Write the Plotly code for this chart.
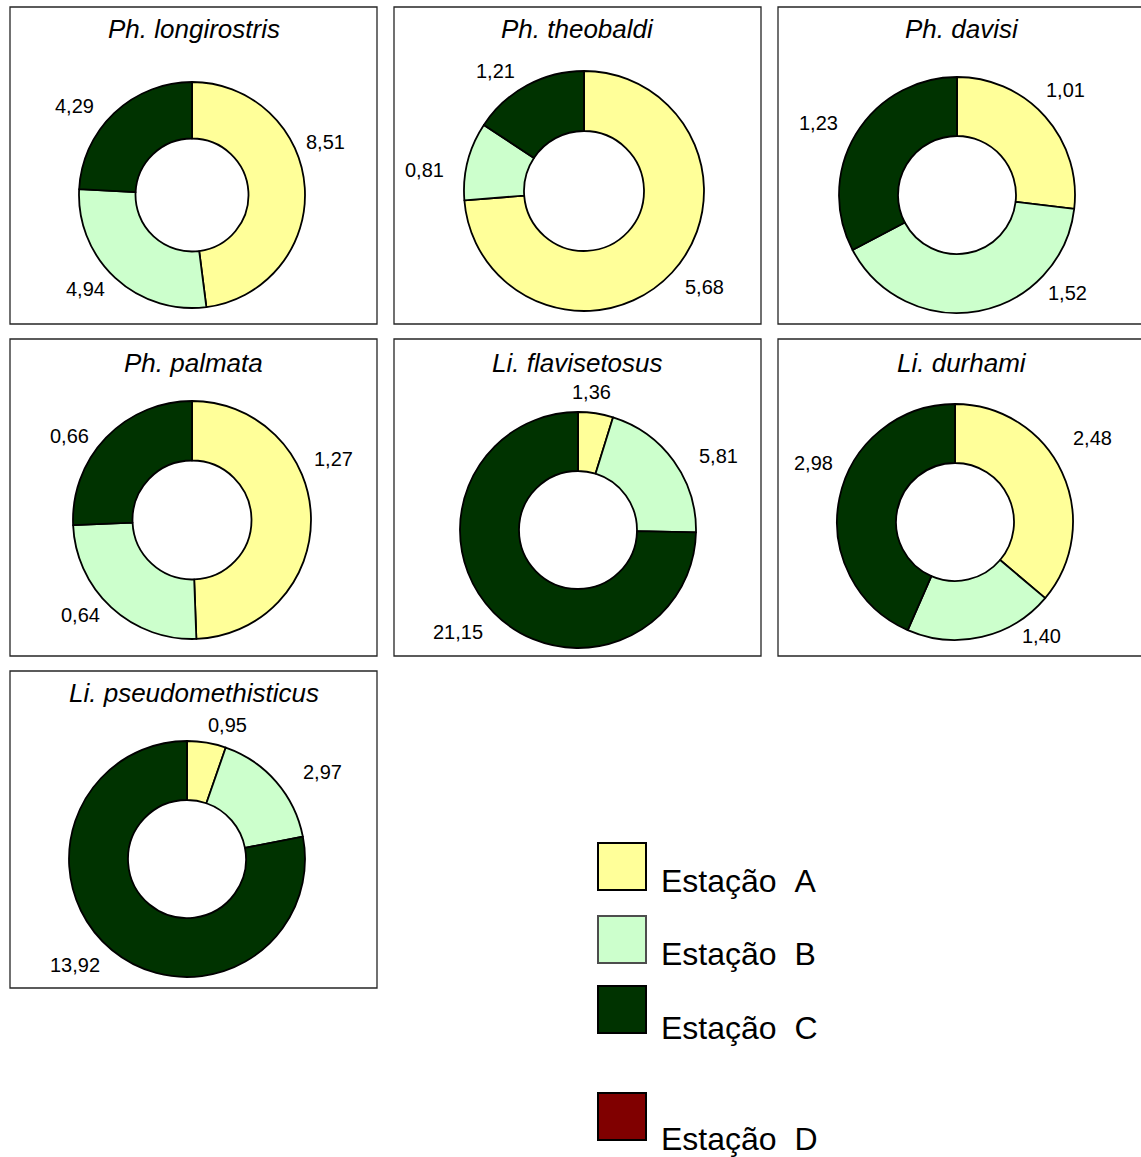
import plotly.graph_objects as go

# ---- data: mean values per station for each species ----
species = ["Ph. longirostris", "Ph. theobaldi", "Ph. davisi", "Ph. palmata",
           "Li. flavisetosus", "Li. durhami", "Li. pseudomethisticus"]
estacao_a = [8.51, 5.68, 1.01, 1.27, 1.36, 2.48, 0.95]
estacao_b = [4.94, 0.81, 1.52, 0.64, 5.81, 1.40, 2.97]
estacao_c = [4.29, 1.21, 1.23, 0.66, 21.15, 2.98, 13.92]
stations = ["Estação A", "Estação B", "Estação C", "Estação D"]
station_colors = ["#FFFF99", "#CCFFCC", "#003300", "#800000"]

# ---- layout (pixel coordinates on a 1141 x 1157 canvas) ----
W, H = 1141, 1157
panel_cols = [10, 394, 778]
panel_rows = [7, 339, 671]
panel_w, panel_h = 367, 317
# donut centre and outer radius for each panel
donut_geom = [(192, 195, 113), (584, 191, 120), (957, 195, 118),
              (192, 520, 119), (578, 530, 118), (955, 522, 118),
              (187, 859, 118)]
title_y = [29, 29, 29, 363, 363, 363, 693]
# value label centres (A, B, C) per panel
label_pos = [
    [(325, 142), (86, 289), (74, 106)],
    [(704, 287), (425, 170), (495, 71)],
    [(1065, 90), (1067, 293), (818, 123)],
    [(333, 459), (80, 615), (69, 436)],
    [(591, 392), (718, 456), (458, 632)],
    [(1092, 438), (1041, 636), (813, 463)],
    [(227, 725), (322, 772), (75, 965)],
]

FONT = "Arial, Liberation Sans, sans-serif"


def px(x):
    return x / W


def py(y):
    return 1 - y / H


def fmt(v):
    return f"{v:.2f}".replace(".", ",")


fig = go.Figure()
shapes = []
annotations = []

for i, name in enumerate(species):
    col, row = i % 3, i // 3
    x0, y0 = panel_cols[col], panel_rows[row]
    shapes.append(dict(type="rect", xref="paper", yref="paper",
                       x0=px(x0), x1=px(x0 + panel_w),
                       y0=py(y0 + panel_h), y1=py(y0),
                       line=dict(color="#262626", width=1.3),
                       fillcolor="rgba(0,0,0,0)", layer="below"))

    vals = [estacao_a[i], estacao_b[i], estacao_c[i]]
    cx, cy, r = donut_geom[i]
    fig.add_trace(go.Pie(
        values=vals,
        labels=stations[:3],
        sort=False,
        direction="clockwise",
        rotation=0,
        hole=0.5,
        textinfo="none",
        hoverinfo="label+value",
        showlegend=False,
        marker=dict(colors=station_colors[:3],
                    line=dict(color="#000000", width=1.8)),
        domain=dict(x=[px(cx - r), px(cx + r)], y=[py(cy + r), py(cy - r)]),
    ))

    annotations.append(dict(
        text=name, xref="paper", yref="paper",
        x=px(x0 + panel_w / 2), y=py(title_y[i]),
        xanchor="center", yanchor="middle", showarrow=False,
        font=dict(family=FONT, size=26, style="italic", color="#000000")))

    for v, (lx, ly) in zip(vals, label_pos[i]):
        annotations.append(dict(
            text=fmt(v), xref="paper", yref="paper",
            x=px(lx), y=py(ly), xanchor="center", yanchor="middle",
            showarrow=False,
            font=dict(family=FONT, size=20, color="#000000")))

# ---- legend: swatches and station names ----
legend_tops = [843, 916, 986, 1093]
legend_text_y = [881, 954, 1028, 1139]
legend_border = ["#000000", "#4d4d4d", "#000000", "#000000"]
for name, color, top, ty, bc in zip(stations, station_colors, legend_tops,
                                    legend_text_y, legend_border):
    shapes.append(dict(type="rect", xref="paper", yref="paper",
                       x0=px(598), x1=px(646), y0=py(top + 47), y1=py(top),
                       line=dict(color=bc, width=2), fillcolor=color))
    label = name.replace(" ", "\u00a0\u00a0")
    annotations.append(dict(
        text=label, xref="paper", yref="paper",
        x=px(659), y=py(ty), xanchor="left", yanchor="middle",
        showarrow=False,
        font=dict(family=FONT, size=32, color="#000000")))

fig.update_layout(
    width=W, height=H,
    margin=dict(l=0, r=0, t=0, b=0),
    paper_bgcolor="white", plot_bgcolor="white",
    shapes=shapes, annotations=annotations,
)

fig.write_html("out.html")
